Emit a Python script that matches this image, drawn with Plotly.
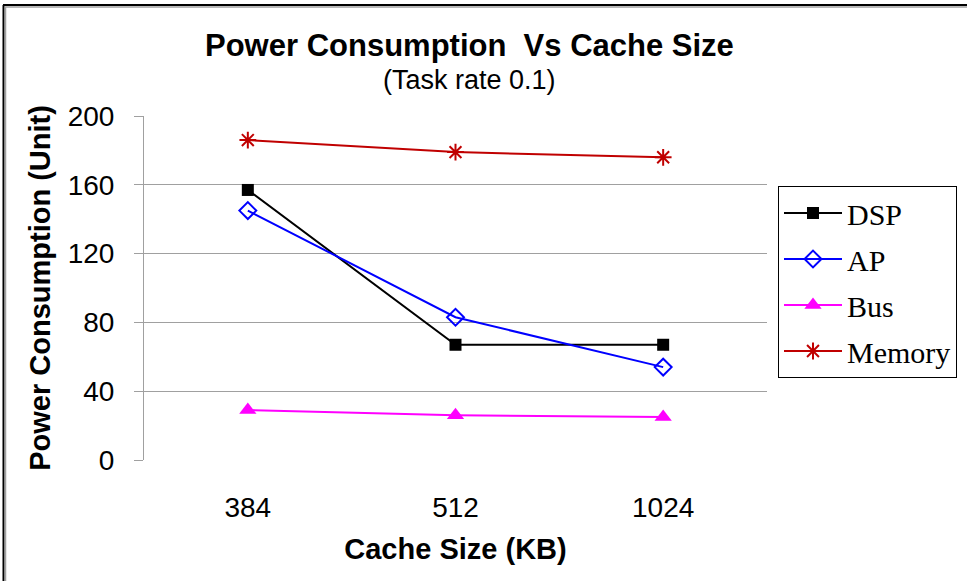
import plotly.graph_objects as go

cache_sizes = ["384", "512", "1024"]
dsp = [157, 67, 67]
ap = [145, 83, 54]
bus = [29, 26, 25]
memory = [186, 179, 176]

W, H = 967, 581
L, R, T, B = 144, 200, 116, 121

def px(x):
    return (x - L) / (W - L - R)

def py(y):
    return 1 - (y - T) / (H - T - B)

sans = "Arial, Liberation Sans, sans-serif"
serif = "Times New Roman, Liberation Serif, serif"

fig = go.Figure()
series = [
    ("DSP", dsp, "#000000", dict(symbol="square", size=12)),
    ("AP", ap, "#0000ff", dict(symbol="diamond-open", size=13, line=dict(width=2, color="#0000ff"))),
    ("Bus", bus, "#ff00ff", dict(symbol="triangle-up", size=15)),
    ("Memory", memory, "#c00000", dict(symbol="asterisk-open", size=14, line=dict(width=2, color="#c00000"))),
]
for name, vals, col, mk in series:
    fig.add_scatter(x=cache_sizes, y=vals, name=name, mode="lines+markers",
                    legendgroup=name,
                    line=dict(color=col, width=2), marker=dict(color=col, **mk))

fig.update_layout(
    width=W, height=H,
    margin=dict(l=L, r=R, t=T, b=B, autoexpand=False),
    paper_bgcolor="white", plot_bgcolor="white",
    font=dict(family=sans, color="black"),
    showlegend=True,
    legend=dict(x=px(778), y=py(186), xanchor="left", yanchor="top",
                bordercolor="black", borderwidth=1, bgcolor="white",
                font=dict(family=serif, size=30), tracegroupgap=4,
                itemwidth=58),
    annotations=[
        dict(text="<b>Power Consumption  Vs Cache Size</b>", x=px(469), y=py(45),
             xref="paper", yref="paper", showarrow=False, yanchor="middle",
             font=dict(size=31, family=sans)),
        dict(text="(Task rate 0.1)", x=px(469), y=py(80),
             xref="paper", yref="paper", showarrow=False, yanchor="middle",
             font=dict(size=27, family=sans)),
    ],
    shapes=[
        dict(type="line", xref="paper", yref="paper", x0=px(3.5), x1=px(3.5),
             y0=py(5), y1=py(590), line=dict(color="black", width=2)),
        dict(type="line", xref="paper", yref="paper", x0=px(3), x1=px(970),
             y0=py(5), y1=py(5), line=dict(color="black", width=2)),
        dict(type="line", xref="paper", yref="paper", x0=px(5.5), x1=px(5.5),
             y0=py(7), y1=py(590), line=dict(color="#a0a0a0", width=1.5)),
        dict(type="line", xref="paper", yref="paper", x0=px(5), x1=px(970),
             y0=py(7), y1=py(7), line=dict(color="#a0a0a0", width=1.5)),
    ],
)

fig.update_xaxes(
    type="category", range=[-0.5, 2.5], showgrid=False, showline=False,
    ticks="", ticklabelstandoff=28, tickfont=dict(size=28), automargin=False,
    title=dict(text="<b>Cache Size (KB)</b>", font=dict(size=29), standoff=16),
)
fig.update_yaxes(
    range=[0, 200], dtick=40, showgrid=True, gridcolor="#a0a0a0", gridwidth=1,
    showline=True, linecolor="#a0a0a0", linewidth=1,
    ticks="outside", ticklen=9, tickcolor="#a0a0a0", ticklabelstandoff=14,
    tickfont=dict(size=28), zeroline=False, automargin=False,
    title=dict(text="<b>Power Consumption (Unit)</b>", font=dict(size=29), standoff=8),
)

fig.write_html("out.html", config={"displayModeBar": False},
               post_script="document.body.style.margin='0';")
